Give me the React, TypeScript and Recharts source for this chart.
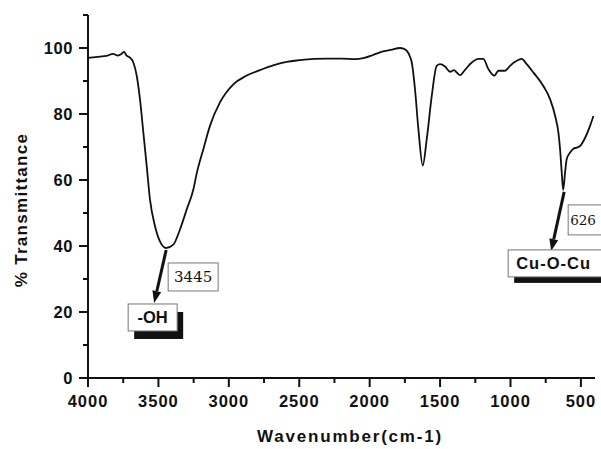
import { LineChart, Line, XAxis, YAxis, ReferenceDot } from "recharts";

const wavenumber = [
  4000, 3915, 3870, 3822, 3787, 3765, 3745, 3725, 3700, 3678, 3654, 3631, 3607, 3583, 3560, 3524,
  3489, 3445, 3394, 3347, 3299, 3252, 3228, 3180, 3134, 3063, 2968, 2880, 2779, 2680, 2589, 2500,
  2400, 2300, 2200, 2100, 2045, 1980, 1927, 1850, 1784, 1760, 1737, 1715, 1701, 1678, 1654, 1623,
  1595, 1559, 1524, 1500, 1465, 1429, 1401, 1380, 1358, 1323, 1275, 1228, 1193, 1157, 1115, 1086,
  1039, 1003, 968, 920, 885, 838, 767, 719, 683, 660, 648, 636, 626, 612, 601, 577, 553, 530, 506,
  470, 435, 411,
];

const transmittance = [
  97.0, 97.4, 97.6, 98.2, 97.7, 98.1, 98.8, 97.7, 97.0, 95.6, 91.6, 84.5, 74.4, 64.2, 54.1, 46.0,
  41.4, 39.4, 40.4, 45.0, 51.1, 57.1, 62.0, 69.5, 76.4, 83.5, 89.0, 91.5, 93.3, 94.8, 95.8, 96.3,
  96.7, 96.8, 96.8, 96.6, 96.9, 97.8, 98.7, 99.4, 100.0, 99.8, 99.2, 97.5, 95.6, 87.5, 75.4, 64.4,
  72.3, 85.5, 94.6, 95.1, 94.4, 92.8, 93.3, 92.5, 91.8, 93.4, 95.6, 96.7, 96.7, 93.6, 91.6, 93.1,
  93.1, 94.6, 95.8, 96.7, 95.1, 92.6, 88.5, 84.5, 79.4, 74.4, 69.3, 62.2, 57.0, 62.5, 66.3, 68.3,
  69.5, 69.8, 70.3, 72.8, 76.4, 79.4,
];

const xTicks = [4000, 3750, 3500, 3250, 3000, 2750, 2500, 2250, 2000, 1750, 1500, 1250, 1000, 750, 500];
const yTicks = [0, 10, 20, 30, 40, 50, 60, 70, 80, 90, 100, 110];

const peaks = [
  { wn: 3445, t: 39.4, label: "3445", group: "-OH" },
  { wn: 626, t: 57.0, label: "626", group: "Cu-O-Cu" },
];

const data = wavenumber.map((wn, i) => ({ wn, t: transmittance[i] }));

const INK = "#111";
const SANS = "'Liberation Sans', Arial, sans-serif";
const SERIF = "'DejaVu Serif', 'Liberation Serif', serif";

const X_TICK = 9;
const X_MINOR = 5;
const X_MARGIN = 8;
const Y_TICK = 9;
const Y_MINOR = 5;
const Y_MARGIN = 6;

function XTick(props: any) {
  const { x, y, payload } = props;
  const axisY = y - X_TICK - X_MARGIN;
  const major = payload.value % 500 === 0;
  return (
    <g>
      <line x1={x} x2={x} y1={axisY} y2={axisY + (major ? X_TICK : X_MINOR)} stroke={INK} strokeWidth={2} />
      {major && (
        <text x={x} y={y} dy="0.71em" textAnchor="middle" fill={INK} fontFamily={SANS}
          fontWeight="bold" fontSize={16.5} letterSpacing={1}>
          {payload.value}
        </text>
      )}
    </g>
  );
}

function YTick(props: any) {
  const { x, y, payload } = props;
  const axisX = x + Y_TICK + Y_MARGIN;
  const major = payload.value % 20 === 0;
  return (
    <g>
      <line x1={axisX} x2={axisX - (major ? Y_TICK : Y_MINOR)} y1={y} y2={y} stroke={INK} strokeWidth={2} />
      {major && (
        <text x={x} y={y} dy="0.36em" textAnchor="end" fill={INK} fontFamily={SANS}
          fontWeight="bold" fontSize={16.5} letterSpacing={0.6}>
          {payload.value}
        </text>
      )}
    </g>
  );
}

function Arrow({ x1, y1, x2, y2 }: { x1: number; y1: number; y2: number; x2: number }) {
  const dx = x2 - x1;
  const dy = y2 - y1;
  const len = Math.hypot(dx, dy);
  const ux = dx / len;
  const uy = dy / len;
  const head = 12;
  const half = 4.5;
  const bx = x2 - ux * head;
  const by = y2 - uy * head;
  return (
    <g>
      <line x1={x1} y1={y1} x2={bx} y2={by} stroke={INK} strokeWidth={3} />
      <polygon
        points={`${x2},${y2} ${bx - uy * half},${by + ux * half} ${bx + uy * half},${by - ux * half}`}
        fill={INK}
      />
    </g>
  );
}

function OhMarker(props: any) {
  const { cx, cy } = props;
  return (
    <g>
      <Arrow x1={cx} y1={cy + 2} x2={cx - 12} y2={cy + 55} />
      <rect x={cx + 2} y={cy + 15} width={50} height={28} fill="#fff" stroke="#777" strokeWidth={1} />
      <text x={cx + 27} y={cy + 34} textAnchor="middle" fontFamily={SERIF} fontSize={15} fill={INK}>
        {peaks[0].label}
      </text>
      <rect x={cx - 32} y={cy + 64} width={49} height={27} fill={INK} />
      <rect x={cx - 38} y={cy + 56} width={49} height={27} fill="#fff" stroke="#777" strokeWidth={1} />
      <text x={cx - 13.5} y={cy + 75.5} textAnchor="middle" fontFamily={SANS} fontWeight="bold"
        fontSize={16.5} fill={INK}>
        {peaks[0].group}
      </text>
    </g>
  );
}

function CuMarker(props: any) {
  const { cx, cy } = props;
  return (
    <g>
      <Arrow x1={cx + 1} y1={cy + 2} x2={cx - 12} y2={cy + 61} />
      <rect x={cx + 5} y={cy + 15} width={44} height={30} fill="#fff" stroke="#777" strokeWidth={1} />
      <text x={cx + 7} y={cy + 35} textAnchor="start" fontFamily={SERIF} fontSize={13.5} fill={INK}>
        {peaks[1].label}
      </text>
      <rect x={cx - 49} y={cy + 66} width={95} height={27} fill={INK} />
      <rect x={cx - 55} y={cy + 60} width={95} height={27} fill="#fff" stroke="#777" strokeWidth={1} />
      <text x={cx - 47} y={cy + 79.5} textAnchor="start" fontFamily={SANS} fontWeight="bold"
        fontSize={16.5} letterSpacing={1} fill={INK}>
        {peaks[1].group}
      </text>
    </g>
  );
}

export default function App() {
  return (
    <div style={{ position: "absolute", left: 0, top: 0, width: 601, height: 449, background: "#fff" }}>
      <LineChart width={601} height={449} data={data} margin={{ top: 15, right: 6, bottom: 0, left: 0 }}>
        <XAxis
          dataKey="wn"
          type="number"
          domain={[400, 4000]}
          reversed
          ticks={xTicks}
          interval={0}
          height={71}
          tickSize={X_TICK}
          tickMargin={X_MARGIN}
          tickLine={false}
          tick={<XTick />}
          axisLine={{ stroke: INK, strokeWidth: 2 }}
          allowDataOverflow
        />
        <YAxis
          type="number"
          domain={[0, 110]}
          ticks={yTicks}
          interval={0}
          width={88}
          tickSize={Y_TICK}
          tickMargin={Y_MARGIN}
          tickLine={false}
          tick={<YTick />}
          axisLine={{ stroke: INK, strokeWidth: 2 }}
        />
        <Line
          type="monotone"
          dataKey="t"
          stroke={INK}
          strokeWidth={1.8}
          dot={false}
          isAnimationActive={false}
        />
        <ReferenceDot x={peaks[0].wn} y={peaks[0].t} r={0} shape={<OhMarker />} />
        <ReferenceDot x={peaks[1].wn} y={peaks[1].t} r={0} shape={<CuMarker />} />
        <text x={350} y={442} textAnchor="middle" fill={INK} fontFamily={SANS} fontWeight="bold"
          fontSize={17} letterSpacing={1.8}>
          Wavenumber(cm-1)
        </text>
        <text x={21} y={210} transform="rotate(-90, 21, 210)" textAnchor="middle"
          dominantBaseline="central" fill={INK} fontFamily={SANS} fontWeight="bold"
          fontSize={17} letterSpacing={1.3}>
          % Transmittance
        </text>
      </LineChart>
    </div>
  );
}
